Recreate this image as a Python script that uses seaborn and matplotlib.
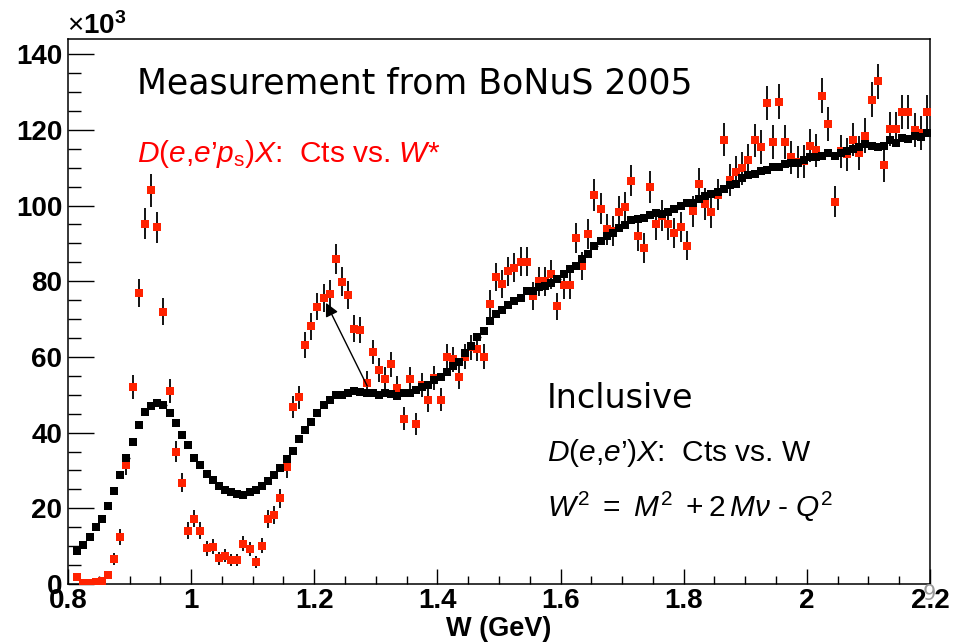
import numpy as np
import pandas as pd
import matplotlib
matplotlib.use("Agg")
import matplotlib.pyplot as plt
from matplotlib.ticker import MultipleLocator
import seaborn as sns

# ---------------- data (counts in units of 10^3) ----------------
bin_low = 0.81
bin_width = 0.01
n_bins = 139

inclusive_counts = [
    8.8, 10.4, 12.4, 15.0, 17.2, 20.7, 24.5, 28.8, 33.2, 37.4,
    42.0, 45.5, 47.0, 47.7, 47.2, 45.1, 42.5, 39.3, 36.8, 33.3,
    31.4, 29.0, 27.5, 25.9, 24.9, 24.4, 23.7, 23.6, 24.2, 24.9,
    25.9, 27.1, 28.8, 30.7, 33.0, 35.2, 38.4, 40.6, 42.9, 45.1,
    47.3, 48.6, 49.9, 50.0, 50.4, 51.0, 50.7, 50.4, 50.4, 50.0,
    50.4, 50.2, 49.8, 50.4, 50.4, 51.3, 52.0, 52.6, 53.9, 54.8,
    56.0, 57.5, 58.7, 61.1, 62.8, 65.3, 66.9, 69.5, 71.4, 72.5,
    73.8, 74.7, 75.6, 77.4, 77.4, 78.4, 78.7, 79.6, 80.6, 81.8,
    83.1, 84.0, 85.9, 87.3, 89.2, 90.5, 92.0, 92.7, 94.1, 94.9,
    96.1, 96.5, 96.8, 97.5, 98.1, 97.8, 98.2, 99.2, 100.0, 100.8,
    100.8, 101.7, 102.4, 103.1, 103.7, 104.3, 105.5, 105.8, 107.3, 108.1,
    108.4, 109.0, 109.3, 110.3, 110.2, 111.0, 111.2, 111.2, 112.1, 112.7,
    112.8, 113.2, 113.9, 113.2, 113.9, 114.3, 114.9, 115.4, 116.3, 115.6,
    115.4, 115.8, 117.2, 116.5, 117.8, 117.5, 118.4, 118.0, 119.1,
]

bonus_counts = [
    1.8, 0.2, 0.3, 0.4, 0.8, 2.3, 6.5, 12.5, 31.5, 52.0,
    77.0, 95.2, 104.0, 94.2, 72.0, 51.0, 35.0, 26.8, 14.1, 17.3,
    14.1, 9.4, 9.9, 6.8, 7.5, 6.3, 6.3, 10.6, 9.2, 5.9,
    10.1, 17.2, 18.2, 22.6, 30.8, 46.8, 49.3, 63.2, 68.1, 73.3,
    75.6, 76.7, 85.9, 79.9, 76.3, 67.5, 67.1, 53.0, 61.3, 56.5,
    54.1, 58.0, 51.9, 43.7, 54.1, 42.2, 52.5, 48.6, 54.5, 48.7,
    60.1, 59.4, 54.8, 60.1, 62.5, 62.2, 60.1, 74.1, 81.1, 79.3,
    82.6, 83.6, 85.2, 85.2, 76.1, 80.0, 80.0, 81.8, 73.4, 78.9,
    78.9, 91.5, 84.0, 92.5, 102.7, 99.1, 93.7, 93.3, 98.3, 99.6,
    106.6, 92.0, 88.8, 104.9, 95.0, 97.3, 95.0, 92.8, 94.4, 89.4,
    98.5, 105.8, 100.4, 98.2, 102.9, 117.4, 106.7, 108.8, 109.8, 112.0,
    117.2, 115.5, 127.1, 116.8, 127.4, 116.8, 112.7, 111.5, 111.7, 115.8,
    114.6, 129.0, 121.6, 101.0, 114.3, 113.5, 117.4, 113.9, 118.5, 128.0,
    132.8, 110.6, 120.3, 120.3, 124.7, 124.7, 120.0, 119.2, 124.7,
]

bonus_errors = [
    0.8, 0.3, 0.3, 0.4, 0.6, 1.0, 1.6, 2.1, 2.7, 3.1,
    3.7, 4.1, 4.3, 4.1, 3.6, 3.1, 2.8, 2.6, 2.2, 2.3,
    2.2, 2.0, 2.0, 1.7, 1.8, 1.6, 1.6, 2.0, 1.9, 1.6,
    2.0, 2.3, 2.4, 2.5, 2.7, 3.0, 3.1, 3.4, 3.5, 3.6,
    3.7, 3.7, 3.9, 3.8, 3.7, 3.5, 3.5, 3.2, 3.3, 3.2,
    3.2, 3.3, 3.1, 3.0, 3.2, 2.9, 3.2, 3.1, 3.2, 3.1,
    3.3, 3.3, 3.2, 3.3, 3.4, 3.4, 3.3, 3.6, 3.8, 3.7,
    3.8, 3.8, 3.9, 3.9, 3.7, 3.8, 3.8, 3.8, 3.6, 3.7,
    3.7, 4.0, 3.8, 4.0, 4.2, 4.1, 4.0, 4.0, 4.1, 4.1,
    4.2, 4.0, 3.9, 4.2, 4.0, 4.1, 4.0, 4.0, 4.0, 3.9,
    4.1, 4.2, 4.1, 4.1, 4.2, 4.4, 4.2, 4.3, 4.3, 4.3,
    4.4, 4.4, 4.6, 4.4, 4.6, 4.4, 4.3, 4.3, 4.3, 4.4,
    4.4, 4.6, 4.5, 4.1, 4.4, 4.4, 4.4, 4.4, 4.5, 4.6,
    4.7, 4.3, 4.5, 4.5, 4.5, 4.5, 4.5, 4.5, 4.5,
]

x_ticks = [0.8, 1.0, 1.2, 1.4, 1.6, 1.8, 2.0, 2.2]
x_tick_labels = ["0.8", "1", "1.2", "1.4", "1.6", "1.8", "2", "2.2"]
y_ticks = [0, 20, 40, 60, 80, 100, 120, 140]
y_tick_labels = ["0", "20", "40", "60", "80", "100", "120", "140"]

w_centers = np.round(bin_low + bin_width * (np.arange(n_bins) + 0.5), 3)

df_incl = pd.DataFrame({"W": w_centers, "counts": inclusive_counts})
df_bonus = pd.DataFrame({"W": w_centers, "counts": bonus_counts, "err": bonus_errors})

# ---------------- style ----------------
sns.set_style("white")
plt.rcParams["font.family"] = ["Liberation Sans", "DejaVu Sans"]
plt.rcParams["mathtext.fontset"] = "custom"
plt.rcParams["mathtext.rm"] = "Liberation Sans"
plt.rcParams["mathtext.it"] = "Liberation Sans:italic"
plt.rcParams["mathtext.bf"] = "Liberation Sans:bold"
for key in ["text.color", "axes.labelcolor", "xtick.color", "ytick.color"]:
    plt.rcParams[key] = "black"

W_PX, H_PX = 963, 644
fig = plt.figure(figsize=(W_PX / 100, H_PX / 100), dpi=100)
ax_left, ax_right, ax_top, ax_bottom = 68, 930, 39, 584
ax = fig.add_axes([ax_left / W_PX, 1 - ax_bottom / H_PX,
                   (ax_right - ax_left) / W_PX, (ax_bottom - ax_top) / H_PX])
ax.set_facecolor("white")

RED = "#ff2200"

# error bars of the BoNuS data (black vertical lines)
ax.errorbar(df_bonus["W"], df_bonus["counts"], yerr=df_bonus["err"],
            xerr=bin_width / 2, fmt="none", ecolor="black", elinewidth=1.3,
            capsize=0, zorder=2)
sns.scatterplot(data=df_bonus, x="W", y="counts", marker="s", color=RED,
                s=32, linewidth=0, ax=ax, zorder=3, legend=False)

# inclusive data
ax.errorbar(df_incl["W"], df_incl["counts"], xerr=bin_width / 2, fmt="none",
            ecolor="black", elinewidth=1.0, capsize=0, zorder=4)
sns.scatterplot(data=df_incl, x="W", y="counts", marker="s", color="black",
                s=34, linewidth=0, ax=ax, zorder=5, legend=False)

# arrow
ax.annotate("", xy=(1.219, 74.3), xytext=(1.286, 52.3),
            arrowprops=dict(arrowstyle="-|>", color="black", lw=1.0,
                            mutation_scale=20, shrinkA=0, shrinkB=0),
            zorder=6)

# ---------------- axes ----------------
ax.set_xlim(0.8, 2.2)
ax.set_ylim(0, 144)
ax.set_xticks(x_ticks)
ax.set_xticklabels(x_tick_labels)
ax.set_yticks(y_ticks)
ax.set_yticklabels(y_tick_labels)
ax.xaxis.set_minor_locator(MultipleLocator(0.05))
ax.yaxis.set_minor_locator(MultipleLocator(5))
ax.tick_params(axis="x", which="major", direction="in", length=11, width=1.0,
               pad=3, labelsize=20, top=False, bottom=True)
ax.tick_params(axis="x", which="minor", direction="in", length=5.5, width=1.0,
               top=False, bottom=True)
ax.tick_params(axis="y", which="major", direction="in", length=19, width=1.0,
               pad=4, labelsize=20, left=True, right=False)
ax.tick_params(axis="y", which="minor", direction="in", length=9.5, width=1.0,
               left=True, right=False)
for lab in ax.get_xticklabels() + ax.get_yticklabels():
    lab.set_fontweight("bold")
for sp in ax.spines.values():
    sp.set_visible(True)
    sp.set_color("black")
    sp.set_linewidth(1.1)

ax.set_xlabel("W (GeV)", fontsize=19.5, fontweight="bold", labelpad=1)
ax.set_ylabel("")


def fx(px):
    return px / W_PX


def fy(py):
    return 1 - py / H_PX


# multiplier
fig.text(fx(67), fy(34), r"$\times\mathbf{10^{3}}$", fontsize=20,
         ha="left", va="baseline")

# annotations
fig.text(fx(137), fy(93), "Measurement from BoNuS 2005", fontsize=25,
         family="DejaVu Sans", ha="left", va="baseline")
fig.text(fx(137), fy(162),
         r"$D$($e$,$e$’$p_{\mathrm{s}}$)$X$:  Cts vs. $W$*",
         fontsize=21.5, color="#ff0000", ha="left", va="baseline")
fig.text(fx(547), fy(408), "Inclusive", fontsize=24, family="DejaVu Sans",
         ha="left", va="baseline")
fig.text(fx(547), fy(461), r"$D$($e$,$e$’)$X$:  Cts vs. W", fontsize=21.5,
         ha="left", va="baseline")
fig.text(fx(547), fy(517),
         r"$W^{\mathrm{2}}\ =\ M^{\mathrm{2}}\ +2\,M\nu$ - $Q^{\mathrm{2}}$",
         fontsize=21.5, ha="left", va="baseline")
# slide number
fig.text(fx(929), fy(600), "9", fontsize=15, color="#9a9a9a",
         family="DejaVu Sans", ha="center", va="baseline")

fig.savefig("out.png", dpi=100, facecolor="white")
